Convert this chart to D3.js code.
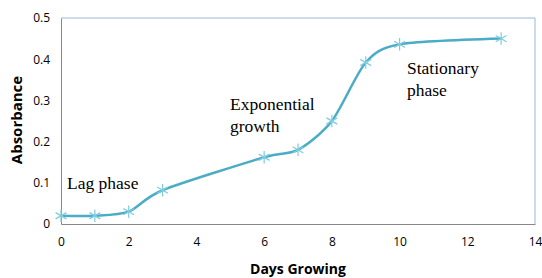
<!DOCTYPE html>
<html>
<head>
<meta charset="utf-8">
<script src="https://d3js.org/d3.v7.min.js"></script>
<style>
  body { margin: 0; background: #fff; }
  svg { display: block; }
</style>
</head>
<body>
<div id="chart"></div>
<script>
    // chart data
    const days = [0, 1, 2, 3, 6, 7, 8, 9, 10, 13];
    const absorbance = [0.02, 0.02, 0.03, 0.082, 0.162, 0.18, 0.25, 0.392, 0.436, 0.45];
    const xTicks = [0, 2, 4, 6, 8, 10, 12, 14];
    const yTicks = [0, 0.1, 0.2, 0.3, 0.4, 0.5];
    const labels = [
        { lines: ["Lag phase"], x: 67, y: 189 },
        { lines: ["Exponential", "growth"], x: 230, y: 110 },
        { lines: ["Stationary", "phase"], x: 407, y: 74 }
    ];

    const width = 542, height = 278;
    const margin = { top: 18, right: 7, bottom: 54, left: 61 };

    const svg = d3.select("#chart").append("svg")
        .attr("width", width)
        .attr("height", height);

    const x = d3.scaleLinear().domain([0, 14])
        .range([margin.left, width - margin.right]);
    const y = d3.scaleLinear().domain([0, 0.5])
        .range([height - margin.bottom, margin.top]);

    // plot border (top/right light blue)
    svg.append("path")
        .attr("d", `M${x(0)},${y(0.5)}H${x(14)}V${y(0)}`)
        .attr("fill", "none")
        .attr("stroke", "#9bb7db")
        .attr("stroke-width", 1);

    const tickFont = "12px 'Open Sans', sans-serif";

    const xAxis = svg.append("g")
        .attr("transform", `translate(0,${y(0)})`)
        .call(d3.axisBottom(x).tickValues(xTicks).tickSize(0).tickPadding(13).tickFormat(d3.format("d")));
    xAxis.select(".domain").attr("stroke", "#888");
    xAxis.selectAll("text").style("font", tickFont).attr("fill", "#000");

    const yAxis = svg.append("g")
        .attr("transform", `translate(${x(0)},0)`)
        .call(d3.axisLeft(y).tickValues(yTicks).tickSize(0).tickPadding(11).tickFormat(d => d === 0 ? "0" : d3.format(".1f")(d)));
    yAxis.select(".domain").attr("stroke", "#888");
    yAxis.selectAll("text").style("font", tickFont).attr("fill", "#000");

    // axis titles
    svg.append("text")
        .attr("x", 298).attr("y", 274)
        .attr("text-anchor", "middle")
        .style("font", "bold 14px 'Open Sans', sans-serif")
        .text("Days Growing");
    svg.append("text")
        .attr("transform", "translate(22,120) rotate(-90)")
        .attr("text-anchor", "middle")
        .style("font", "bold 15px 'Open Sans', sans-serif")
        .text("Absorbance");

    const data = days.map((d, i) => ({ x: d, y: absorbance[i] }));

    const line = d3.line()
        .x(d => x(d.x))
        .y(d => y(d.y))
        .curve(d3.curveCardinal.tension(0.2));

    svg.append("path")
        .datum(data)
        .attr("fill", "none")
        .attr("stroke", "#4aacc5")
        .attr("stroke-width", 2.5)
        .attr("d", line);

    // asterisk markers
    const star = d3.symbol().type(d3.symbolAsterisk).size(110);
    svg.selectAll(".pt")
        .data(data)
        .enter().append("path")
        .attr("class", "pt")
        .attr("transform", d => `translate(${x(d.x)},${y(d.y)})`)
        .attr("d", star)
        .attr("fill", "none")
        .attr("stroke", "#7fcce0")
        .attr("stroke-width", 1.2);

    // annotations
    labels.forEach(l => {
        const t = svg.append("text")
            .attr("x", l.x).attr("y", l.y)
            .style("font", "17.5px 'Liberation Serif', serif")
            .attr("fill", "#000");
        l.lines.forEach((s, i) => {
            t.append("tspan").attr("x", l.x).attr("dy", i === 0 ? 0 : 22).text(s);
        });
    });
</script>
</body>
</html>
